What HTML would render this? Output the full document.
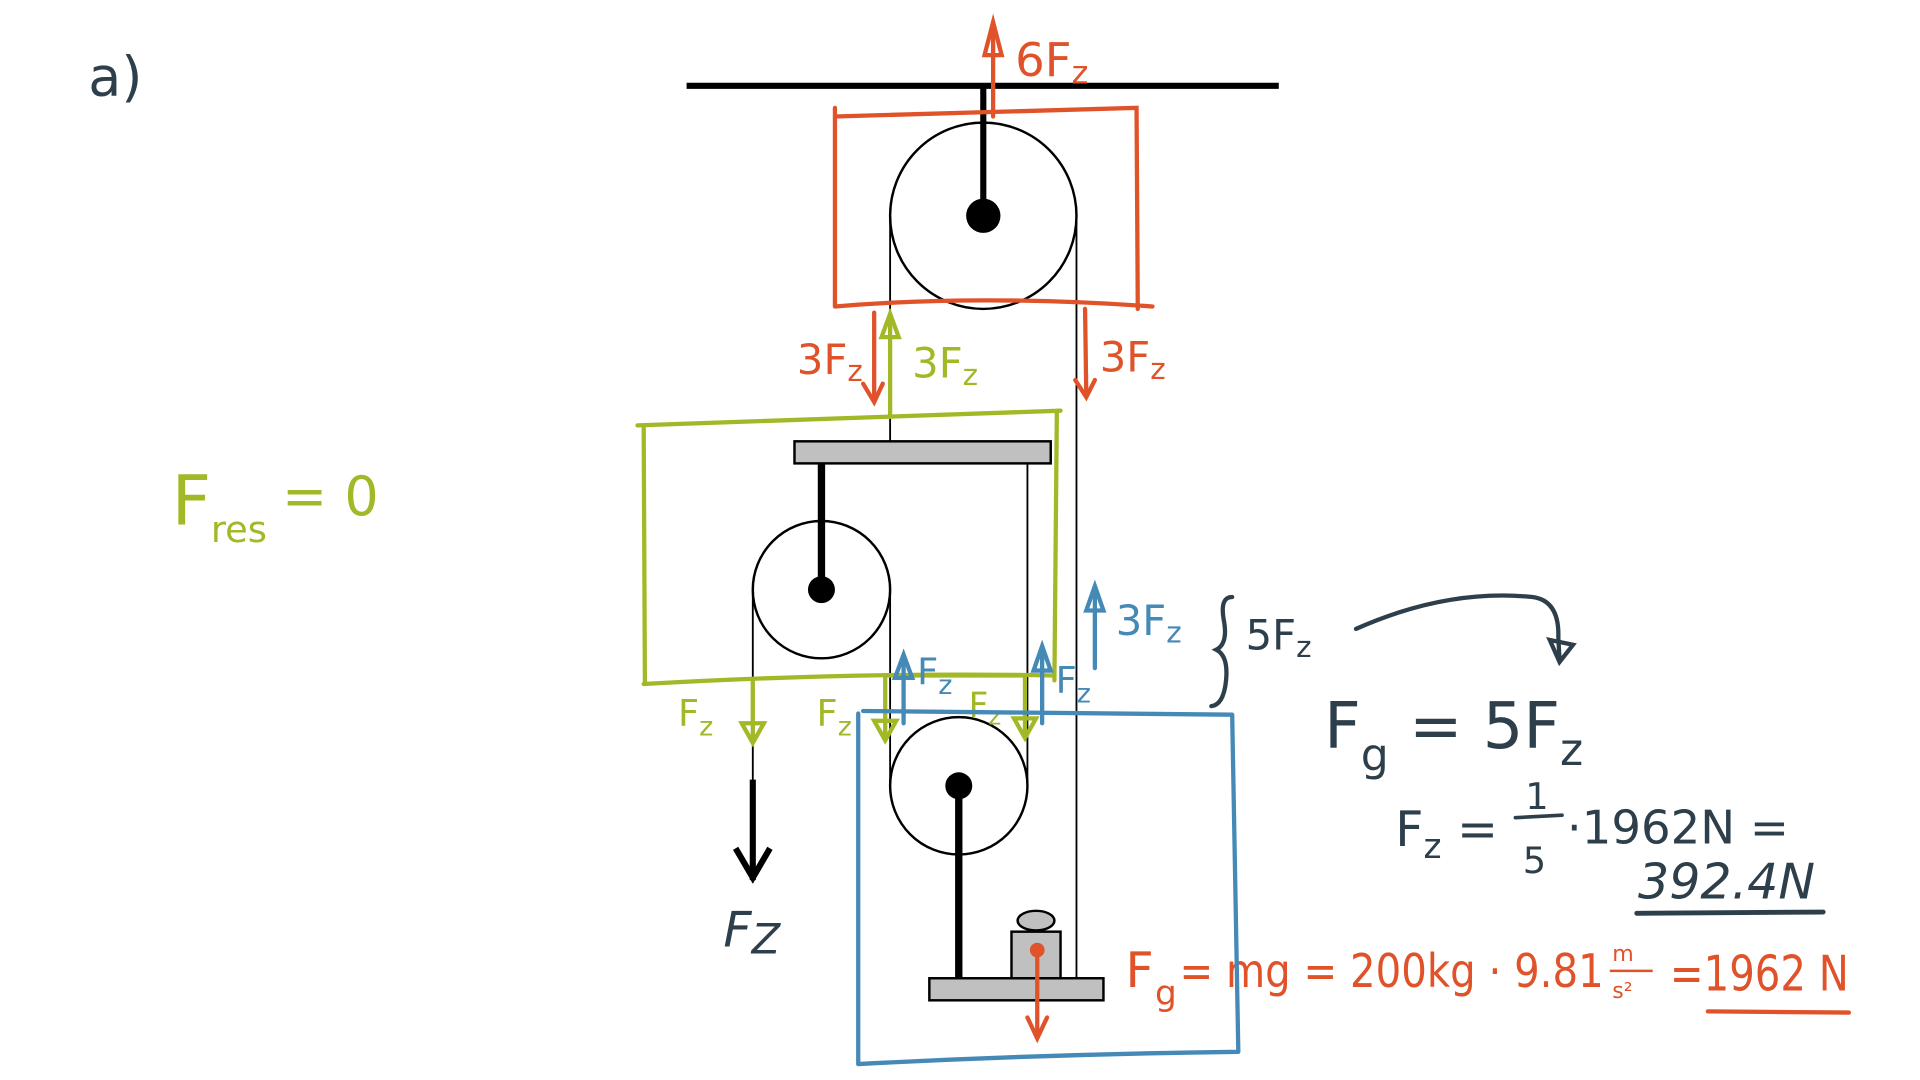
<!DOCTYPE html>
<html><head><meta charset="utf-8"><style>
html,body{margin:0;padding:0;background:#fff;width:1920px;height:1080px;overflow:hidden}
svg{display:block}
text{font-family:"DejaVu Sans","Liberation Sans",sans-serif}
.r{fill:#e0532a}.g{fill:#a3b827}.b{fill:#4589b6}.d{fill:#2e3f4c}
</style></head><body>
<svg width="1920" height="1080" viewBox="0 0 1566 881" preserveAspectRatio="none" xmlns="http://www.w3.org/2000/svg">
<text x="72" y="78" font-size="44" class="d">a)</text>
<text x="140" y="428" font-size="56" class="g">F</text>
<text x="172" y="442" font-size="30" class="g">res</text>
<text x="230" y="420" font-size="44" class="g">= 0</text>

<g stroke="#000" fill="none">
<line x1="560" y1="70" x2="1043" y2="70" stroke-width="5"/>
<line x1="802" y1="70" x2="802" y2="176" stroke-width="5"/>
<circle cx="802" cy="176" r="76" stroke-width="2"/>
<line x1="726" y1="176" x2="726" y2="360" stroke-width="1.5"/>
<line x1="878" y1="176" x2="878" y2="798" stroke-width="1.5"/>
<line x1="670" y1="378" x2="670" y2="481" stroke-width="6"/>
<circle cx="670" cy="481" r="56" stroke-width="2"/>
<line x1="614" y1="481" x2="614" y2="720" stroke-width="1.5"/>
<line x1="726" y1="481" x2="726" y2="641" stroke-width="1.5"/>
<line x1="838" y1="378" x2="838" y2="641" stroke-width="1.5"/>
<circle cx="782" cy="641" r="56" stroke-width="2"/>
<line x1="782" y1="641" x2="782" y2="798" stroke-width="6"/>
<line x1="614" y1="636" x2="614" y2="718" stroke-width="5"/>
<polyline points="600,692 614,716 628,692" stroke-width="5"/>
</g>
<circle cx="802" cy="176" r="14"/>
<circle cx="670" cy="481" r="11"/>
<circle cx="782" cy="641" r="11"/>
<rect x="648" y="360" width="209" height="18" fill="#c0c0c0" stroke="#000" stroke-width="2"/>
<rect x="758" y="798" width="142" height="18" fill="#c0c0c0" stroke="#000" stroke-width="2"/>
<rect x="825" y="760" width="40" height="38" fill="#c0c0c0" stroke="#000" stroke-width="2"/>
<ellipse cx="845" cy="751" rx="15" ry="8" fill="#c0c0c0" stroke="#000" stroke-width="2"/>
<text x="590" y="772" font-size="40" font-style="italic" font-family="Liberation Serif,serif" class="d">F<tspan font-size="34" dy="6">Z</tspan></text>

<g stroke="#e0532a" fill="none" stroke-width="3.5" stroke-linecap="round">
<path d="M681 88 L681 250 M681 95 L927 88 L928 252 M681 250 Q800 240 940 250"/>
<line x1="810" y1="95" x2="810" y2="22"/>
<path d="M803 45 L810 18 L817 45 Z"/>
<line x1="713" y1="255" x2="713" y2="326"/>
<path d="M704 313 L713 328 L720 313"/>
<line x1="885" y1="252" x2="886" y2="322"/>
<path d="M877 310 L886 324 L893 310"/>
<line x1="846" y1="775" x2="846" y2="845"/>
<path d="M838 830 L846 847 L854 830"/>
<line x1="1393" y1="825" x2="1508" y2="826"/>
</g>
<circle cx="846" cy="775" r="6" fill="#e0532a"/>
<text x="828" y="62" font-size="38" class="r">6F<tspan font-size="26" dy="6">z</tspan></text>
<text x="650" y="305" font-size="34" class="r">3F<tspan font-size="24" dy="6">z</tspan></text>
<text x="897" y="303" font-size="34" class="r">3F<tspan font-size="24" dy="6">z</tspan></text>
<text x="918" y="805" font-size="40" class="r">F</text>
<text x="942" y="820" font-size="28" class="r">g</text>
<text x="962" y="805" font-size="38" class="r" textLength="346" lengthAdjust="spacingAndGlyphs">= mg = 200kg · 9.81</text>
<text x="1315" y="784" font-size="18" class="r">m</text>
<line x1="1313" y1="792" x2="1348" y2="792" stroke="#e0532a" stroke-width="2"/>
<text x="1315" y="814" font-size="18" class="r">s²</text>
<text x="1362" y="808" font-size="40" class="r" textLength="146" lengthAdjust="spacingAndGlyphs">=1962 N</text>

<g stroke="#a3b827" fill="none" stroke-width="3.5" stroke-linecap="round">
<path d="M520 347 L865 335 M525 347 L526 558 M862 335 L860 555 M525 558 Q700 548 860 551"/>
<path d="M722 551 L836 551"/>
<line x1="726" y1="340" x2="726" y2="258"/>
<path d="M719 275 L726 256 L733 275 Z"/>
<line x1="614" y1="555" x2="614" y2="604"/>
<path d="M605 590 L614 606 L623 590 Z"/>
<line x1="722" y1="551" x2="722" y2="602"/>
<path d="M713 588 L722 604 L731 588 Z"/>
<line x1="836" y1="551" x2="836" y2="600"/>
<path d="M827 586 L836 602 L845 586 Z"/>
</g>
<text x="744" y="308" font-size="34" class="g">3F<tspan font-size="24" dy="6">z</tspan></text>
<text x="553" y="592" font-size="30" class="g">F<tspan font-size="22" dy="8">z</tspan></text>
<text x="666" y="592" font-size="30" class="g">F<tspan font-size="22" dy="8">z</tspan></text>
<text x="790" y="585" font-size="28" class="g">F<tspan font-size="20" dy="6">z</tspan></text>

<g stroke="#4589b6" fill="none" stroke-width="3.5" stroke-linecap="round">
<path d="M704 580 L1005 583 M700 582 L700 868 M1005 583 L1010 858 M700 868 Q850 860 1010 858"/>
<line x1="737" y1="590" x2="737" y2="537"/>
<path d="M730 553 L737 534 L744 553 Z"/>
<line x1="850" y1="590" x2="850" y2="530"/>
<path d="M843 547 L850 527 L857 547 Z"/>
<line x1="893" y1="545" x2="893" y2="481"/>
<path d="M886 498 L893 478 L900 498 Z"/>
</g>
<text x="748" y="558" font-size="30" class="b">F<tspan font-size="22" dy="8">z</tspan></text>
<text x="861" y="565" font-size="30" class="b">F<tspan font-size="22" dy="8">z</tspan></text>
<text x="910" y="518" font-size="34" class="b">3F<tspan font-size="24" dy="6">z</tspan></text>

<g stroke="#2e3f4c" fill="none" stroke-width="3.5" stroke-linecap="round">
<path d="M1005 487 Q995 487 998 505 Q1002 525 992 530 Q1002 535 1000 555 Q998 575 988 576"/>
<path d="M1106 513 Q1180 480 1250 487 Q1272 490 1271 520 L1272 538"/>
<path d="M1264 522 L1272 540 L1283 526 Z"/>
<line x1="1335" y1="745" x2="1487" y2="744" stroke-width="4"/>
<line x1="1236" y1="667" x2="1274" y2="665" stroke-width="3"/>
</g>
<text x="1016" y="530" font-size="34" class="d">5F<tspan font-size="24" dy="6">z</tspan></text>
<text x="1080" y="610" font-size="52" class="d">F<tspan font-size="36" dy="18">g</tspan><tspan dy="-18"> = 5F</tspan><tspan font-size="36" dy="14">z</tspan></text>
<text x="1138" y="690" font-size="40" class="d">F<tspan font-size="28" dy="10">z</tspan><tspan dy="-10"> = </tspan></text>
<text x="1244" y="660" font-size="30" class="d">1</text>
<text x="1242" y="712" font-size="30" class="d">5</text>
<text x="1278" y="688" font-size="38" class="d">·1962N =</text>
<text x="1336" y="733" font-size="40" font-style="italic" class="d">392.4N</text>
</svg>
</body></html>
